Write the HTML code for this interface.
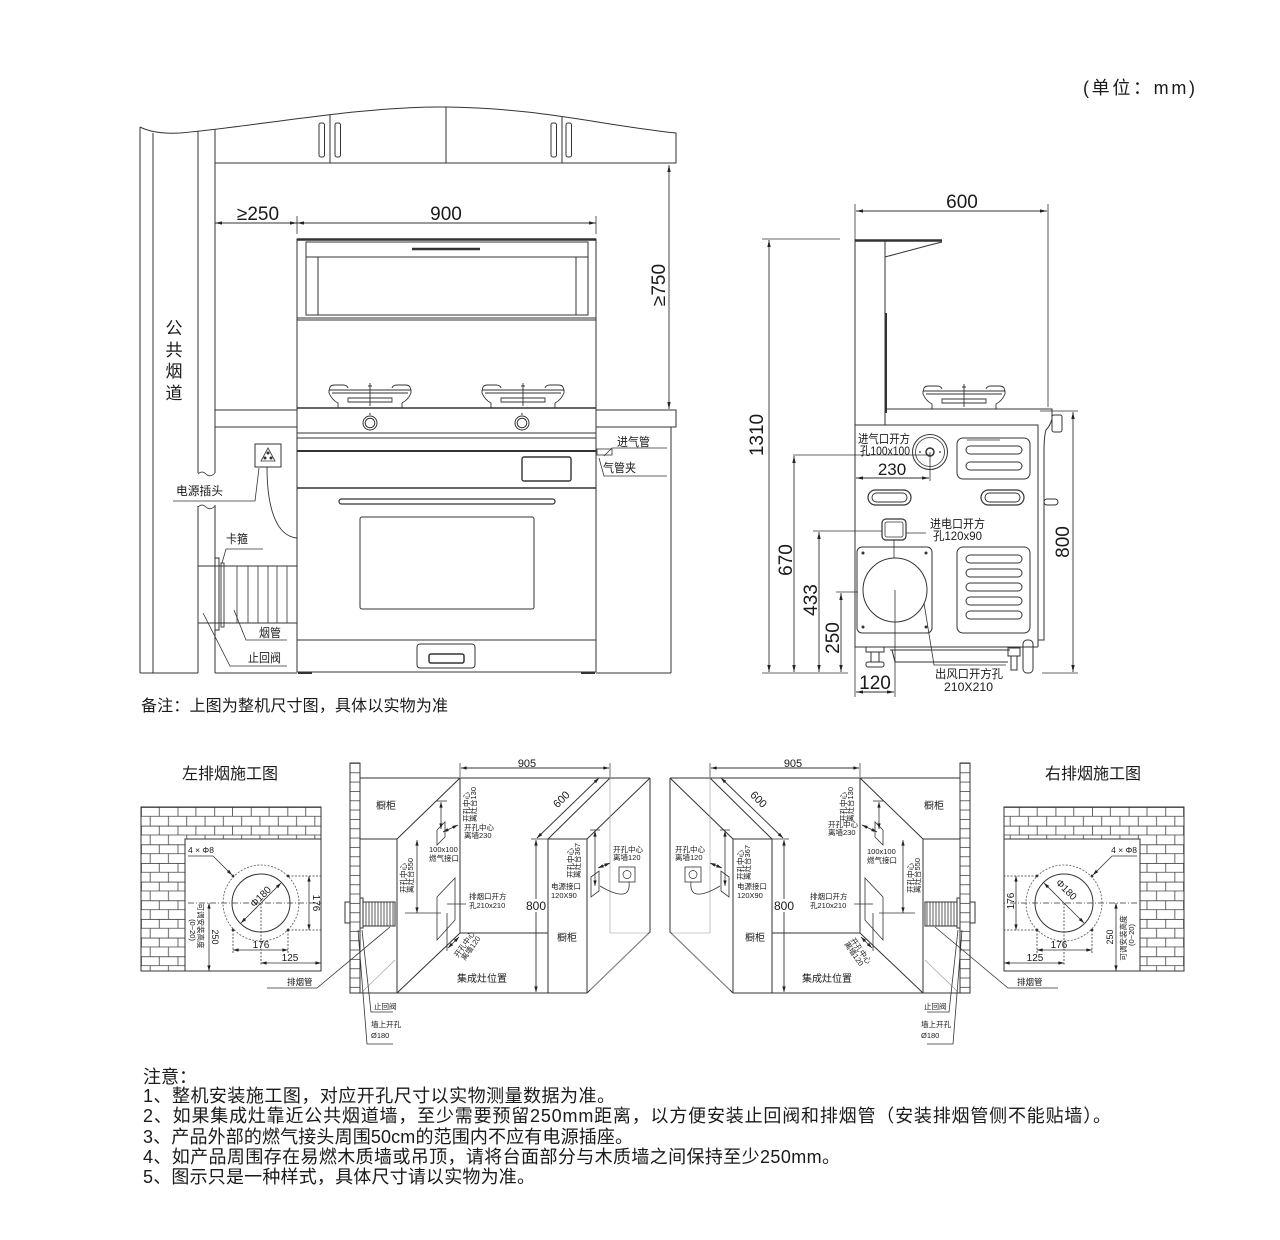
<!DOCTYPE html>
<html><head><meta charset="utf-8"><title>diagram</title>
<style>
html,body{margin:0;padding:0;background:#fff;width:1280px;height:1240px;overflow:hidden}
svg{display:block}
text{font-family:"Liberation Sans","Noto Sans CJK SC",sans-serif;fill:#1a1a1a;stroke:none}
</style></head><body>
<svg width="1280" height="1240" viewBox="0 0 1280 1240" xmlns="http://www.w3.org/2000/svg" xmlns:xlink="http://www.w3.org/1999/xlink">
<defs>
<marker id="a" viewBox="0 0 10 6" refX="10" refY="3" markerWidth="9" markerHeight="4.2" orient="auto-start-reverse" markerUnits="userSpaceOnUse"><path d="M0,0.6L10,3L0,5.4z" fill="#222"/></marker>
<marker id="s" viewBox="0 0 10 6" refX="10" refY="3" markerWidth="6" markerHeight="3.4" orient="auto-start-reverse" markerUnits="userSpaceOnUse"><path d="M0,0L10,3L0,6z" fill="#222"/></marker>
<pattern id="brk" patternUnits="userSpaceOnUse" x="141" y="807" width="36.6" height="18.66"><path d="M0,0.4H36.6M0,9.33H36.6M0.4,0V9.33M18.3,0V9.33M9.15,9.33V18.66M27.45,9.33V18.66" stroke="#444" stroke-width="0.8" fill="none"/></pattern>
<pattern id="col" patternUnits="userSpaceOnUse" x="350" y="763" width="10" height="9.33"><path d="M0,0.4H10" stroke="#444" stroke-width="0.8"/></pattern>
<clipPath id="cab"><path d="M140,127 C148,131 160,134 180,133 C260,126 360,106 446,107 C540,108 600,125 676,133 L676,170 L140,170Z"/></clipPath>
<g id="bn" fill="none" stroke="#333" stroke-width="0.9">
 <path d="M-41,-17 L-40,-21 Q-39,-23 -35,-23 L-27,-23 Q-23,-23 -22,-20"/>
 <path d="M41,-17 L40,-21 Q39,-23 35,-23 L27,-23 Q23,-23 22,-20"/>
 <path d="M-41,-18 L41,-18 L41,-15 Q38,-8 32,-5 L32,0 M-41,-18 L-41,-15 Q-38,-8 -32,-5 L-32,0"/>
 <path d="M-38,-15 L38,-15"/>
 <path d="M-22,-10 L22,-10 L22,-6 L-22,-6 Z"/>
 <path d="M0,-25 L0,-2 M-2,-22 L2,-22"/>
</g>

<g id="brickL">
 <rect x="141" y="807" width="180" height="164" fill="url(#brk)" stroke="none"/>
 <rect x="185" y="839" width="136" height="132" fill="#fff" stroke="none"/>
 <path d="M141,807 H321 V971 H141 Z M185,971 V839 H321" fill="none" stroke="#333" stroke-width="1"/>
 <circle cx="261" cy="903" r="38" fill="none" stroke="#555" stroke-width="0.8" stroke-dasharray="2,1.5"/>
 <circle cx="261" cy="903" r="29" fill="none" stroke="#333" stroke-width="1"/>
 <g fill="#333"><circle cx="233" cy="876" r="1.4"/><circle cx="288" cy="876" r="1.4"/><circle cx="233" cy="930" r="1.4"/><circle cx="288" cy="930" r="1.4"/></g>
 <g fill="none" stroke="#333" stroke-width="0.8">
  <path d="M188,903 H321" stroke-dasharray="6,2,1,2"/>
  <path d="M261,903 V966 M288,876 H321 M288,930 H321 M233,930 V954 M288,930 V954" stroke-dasharray="2,1.5"/>
  <line x1="309" y1="876" x2="309" y2="930" marker-start="url(#s)" marker-end="url(#s)"/>
  <line x1="233" y1="950" x2="288" y2="950" marker-start="url(#s)" marker-end="url(#s)"/>
  <line x1="261" y1="963" x2="321" y2="963" marker-start="url(#s)" marker-end="url(#s)"/>
  <line x1="209" y1="903" x2="209" y2="971" marker-start="url(#s)" marker-end="url(#s)"/>
  <line x1="241" y1="923" x2="281" y2="883" marker-start="url(#s)" marker-end="url(#s)"/>
  <polyline points="188,856 213,856 232,875" marker-end="url(#s)"/>
  <path d="M267,988 H317 L390,927"/>
 </g>
</g>

<g id="boxL" fill="none" stroke="#333" stroke-width="1">
 <rect x="350" y="763" width="10" height="230" fill="url(#col)"/>
 <rect x="345" y="902" width="5" height="21"/>
 <rect x="360" y="898" width="3" height="30"/>
 <rect x="363" y="902" width="32" height="24"/>
 <path d="M366,902V926M369,902V926M372,902V926M375,902V926M378,902V926M381,902V926M384,902V926M387,902V926M390,902V926M393,902V926" stroke-width="0.8"/>
 <path d="M360,778 H650 M360,839 H397 V993 M360,993 H587 M397,839 L460,778 M460,778 V933 L397,993 M460,933 H548 M548,839 H587 M548,839 V993 M587,839 V993 M548,839 L610,778 M587,839 L650,778 M650,778 V932 L587,993"/>
 <path d="M610,778 V933 M610,933 H650 M362,992 L395,960 M590,990 L648,934" stroke="#999" stroke-width="0.6"/>
 <path d="M437,830 L445,822 L445,837 L437,845 Z" stroke-width="0.8"/>
 <path d="M436,801 H447" stroke-width="0.8"/>
 <line x1="441" y1="802" x2="441" y2="829" stroke-width="0.8" marker-start="url(#s)" marker-end="url(#s)"/>
 <line x1="443" y1="832" x2="458" y2="825" stroke-width="0.8" marker-start="url(#s)" marker-end="url(#s)"/>
 <line x1="417" y1="840" x2="417" y2="913" stroke-width="0.8" marker-start="url(#s)" marker-end="url(#s)"/>
 <path d="M405,913 H441" stroke-width="0.8"/>
 <path d="M437,897 L455,878 L455,920 L437,940 Z" stroke-width="0.8"/>
 <path d="M447,904 H466 M447,913 V951" stroke-width="0.8"/>
 <line x1="448" y1="948" x2="459" y2="937" stroke-width="0.8" marker-start="url(#s)" marker-end="url(#s)"/>
 <path d="M591,877 L599,871 L599,891 L591,897 Z" stroke-width="0.8"/>
 <path d="M590,830 H600" stroke-width="0.8"/>
 <line x1="595" y1="831" x2="595" y2="886" stroke-width="0.8" marker-start="url(#s)" marker-end="url(#s)"/>
 <line x1="598" y1="868" x2="610" y2="863" stroke-width="0.8" marker-start="url(#s)" marker-end="url(#s)"/>
 <rect x="619" y="867" width="16" height="15" stroke-width="0.8"/>
 <circle cx="627" cy="874.5" r="4" stroke-width="0.7"/>
 <path d="M629,882 C631,900 615,895 600,886" stroke-width="0.8"/>
 <line x1="461" y1="768" x2="609" y2="768" stroke-width="0.9" marker-start="url(#s)" marker-end="url(#s)"/>
 <path d="M460,763 V777 M610,763 V777" stroke-width="0.7"/>
 <line x1="537" y1="838" x2="599" y2="778" stroke-width="0.9" marker-start="url(#s)" marker-end="url(#s)"/>
 <line x1="536" y1="840" x2="536" y2="992" stroke-width="0.9" marker-start="url(#s)" marker-end="url(#s)"/>
 <path d="M531,839 H548" stroke-width="0.7"/>
 <path d="M362,930 L371,1012 H393 M358,930 L367,1044 H393" stroke-width="0.8"/>
</g>
</defs>

<text x="1083" y="94" font-size="18" textLength="112" lengthAdjust="spacing">(单位：mm)</text>

<g fill="none" stroke="#333" stroke-width="1">
 <path d="M140,127 V673 M153,133 V673 M198,131 V473 M215,129 V473 M198,506 V673 M215,505 V673"/>
 <path d="M198,474 q4,-4 8,0 t9,-1 M198,507 q4,-4 8,0 t9,-1" stroke-width="0.8"/>
 <path d="M140,127 C148,131 160,134 180,133 C260,126 360,106 446,107 C540,108 600,125 676,133 L676,163 L215,163"/>
 <g clip-path="url(#cab)"><path d="M330,100 V163 M446,100 V163 M562,100 V163"/></g>
 <rect x="319" y="123" width="5.5" height="34" rx="2"/>
 <rect x="335" y="123" width="5.5" height="34" rx="2"/>
 <rect x="551" y="123" width="5.5" height="34" rx="2"/>
 <rect x="566" y="123" width="5.5" height="34" rx="2"/>
 <line x1="215" y1="223" x2="297" y2="223" stroke-width="0.9" marker-start="url(#a)" marker-end="url(#a)"/>
 <line x1="297" y1="223" x2="596" y2="223" stroke-width="0.9" marker-start="url(#a)" marker-end="url(#a)"/>
 <path d="M297,216 V234 M596,216 V234" stroke-width="0.8"/>
 <line x1="669" y1="165" x2="669" y2="409" stroke-width="0.9" marker-start="url(#a)" marker-end="url(#a)"/>
 <rect x="297" y="239" width="299" height="79"/>
 <path d="M297,239.5 H596" stroke-width="2.6"/>
 <rect x="306" y="242" width="282" height="73"/>
 <path d="M306,257 H588 M318,257 V315 M576,257 V315 M297,320 H596"/>
 <path d="M412,249 H480" stroke-width="2.6"/>
 <path d="M297,318 V672 M596,318 V672"/>
 <path d="M297,408 H596" stroke-width="1.4"/>
 <path d="M215,410 H297 M215,427 H297 M596,410 H676 V427 H596 M671,427 V673"/>
 <path d="M297,433 H596 M297,438 H596"/>
 <path d="M297,451 H596" stroke-width="2"/>
 <path d="M297,488 H596" stroke-width="1.4"/>
 <rect x="522" y="457" width="49" height="24" rx="2" stroke-width="1.4"/>
 <rect x="339" y="499" width="216" height="5" rx="2.5" stroke-width="1.2"/>
 <rect x="360" y="517" width="174" height="92" rx="2"/>
 <path d="M297,640 H596 M297,672 H596"/>
 <rect x="417" y="644" width="58" height="24" rx="3"/>
 <rect x="429" y="654" width="35" height="9" rx="2" stroke-width="1.5"/>
 <path d="M298,673 H312 M581,673 H595" stroke-width="2"/>
 <path d="M140,673 H198 M215,673 H297 M596,673 H671"/>
 <circle cx="370" cy="423" r="7"/><circle cx="370" cy="423" r="4.8"/>
 <circle cx="522" cy="423" r="7"/><circle cx="522" cy="423" r="4.8"/>
 <path d="M370,413 V415 M522,413 V415"/>
 <rect x="255" y="444" width="26" height="23"/>
 <path d="M268,448 L275,461 L261,461 Z" stroke-width="0.8"/>
 <circle cx="268" cy="453" r="1" fill="#333"/><circle cx="265" cy="458" r="1" fill="#333"/><circle cx="271" cy="458" r="1" fill="#333"/>
 <path d="M173,501 H255 L259,468" stroke-width="0.8"/>
 <path d="M267,467 C267,505 275,536 297,538" stroke-width="0.9"/>
 <path d="M198,566 H297 M198,623 H297"/>
 <rect x="215" y="558" width="4" height="72" stroke-width="1"/>
 <rect x="221" y="563" width="3" height="64" stroke-width="0.9"/>
 <path d="M237,566V623M248,566V623M258,566V623M268,566V623M277,566V623M287,566V623" stroke-width="0.8"/>
 <path d="M226,549 H263 M226,549 L222,563" stroke-width="0.8"/>
 <path d="M234,610 L246,640 H287" stroke-width="0.8"/>
 <path d="M203,613 L230,666 H287" stroke-width="0.8"/>
 <rect x="597" y="449" width="15" height="6" stroke-width="0.8"/>
 <path d="M604,456 L612,448 H667 M599,458 L604,476 H667" stroke-width="0.8"/>
</g>
<use xlink:href="#bn" href="#bn" x="370" y="408"/>
<use xlink:href="#bn" href="#bn" x="523" y="408"/>

<text x="258" y="220" font-size="19" text-anchor="middle">≥250</text>
<text x="446" y="220" font-size="19" text-anchor="middle">900</text>
<text font-size="19" text-anchor="middle" transform="translate(665,285) rotate(-90)">≥750</text>
<g font-size="17" text-anchor="middle">
 <text x="174" y="334">公</text><text x="174" y="356">共</text><text x="174" y="377">烟</text><text x="174" y="399">道</text>
</g>
<g font-size="12">
 <text x="176" y="495" textLength="47" lengthAdjust="spacingAndGlyphs">电源插头</text>
 <text x="226" y="543" textLength="22" lengthAdjust="spacingAndGlyphs">卡箍</text>
 <text x="259" y="637" textLength="22" lengthAdjust="spacingAndGlyphs">烟管</text>
 <text x="248" y="662" textLength="33" lengthAdjust="spacingAndGlyphs">止回阀</text>
 <text x="617" y="446" textLength="33" lengthAdjust="spacingAndGlyphs">进气管</text>
 <text x="603" y="472" textLength="33" lengthAdjust="spacingAndGlyphs">气管夹</text>
</g>
<text x="141" y="711" font-size="16" textLength="307" lengthAdjust="spacing">备注：上图为整机尺寸图，具体以实物为准</text>

<g fill="none" stroke="#333" stroke-width="1">
 <line x1="856" y1="211" x2="1047" y2="211" stroke-width="0.9" marker-start="url(#a)" marker-end="url(#a)"/>
 <path d="M855,204 V239 M1048,204 V407" stroke-width="0.8"/>
 <line x1="769" y1="240" x2="769" y2="672" stroke-width="0.9" marker-start="url(#a)" marker-end="url(#a)"/>
 <path d="M762,239 H840 M762,673 H848 M1042,673 H1078 M1040,411 H1078 M793,455 H930 M813,531 H882 M836,592 H858" stroke-width="0.8"/>
 <line x1="794" y1="456" x2="794" y2="672" stroke-width="0.9" marker-start="url(#a)" marker-end="url(#a)"/>
 <line x1="819" y1="532" x2="819" y2="672" stroke-width="0.9" marker-start="url(#a)" marker-end="url(#a)"/>
 <line x1="841" y1="593" x2="841" y2="672" stroke-width="0.9" marker-start="url(#a)" marker-end="url(#a)"/>
 <line x1="1073" y1="412" x2="1073" y2="672" stroke-width="0.9" marker-start="url(#a)" marker-end="url(#a)"/>
 <line x1="856" y1="692" x2="894" y2="692" stroke-width="0.9" marker-start="url(#a)" marker-end="url(#a)"/>
 <path d="M855,647 V697 M895,590 V697" stroke-width="0.8"/>
 <line x1="856" y1="478" x2="929" y2="478" stroke-width="0.9" marker-start="url(#a)" marker-end="url(#a)"/>
 <path d="M930,452 V481" stroke-width="0.8"/>
 <path d="M855,240.5 H942" stroke-width="2.6"/>
 <path d="M942,242 L930,245 L885,257"/>
 <path d="M855,239 V647 H1038 M885,241 V425"/>
 <path d="M886,313 V413" stroke-width="2"/>
 <path d="M885,409 H1052 V419 Q1050,426 1046,430 Q1044,436 1044,452 V640 H1038 M855,425 H1038 V647"/>
 <rect x="1052" y="415" width="10" height="17" rx="2"/>
 <rect x="1044" y="499" width="14" height="6" rx="3"/>
 <circle cx="930" cy="452" r="17.5"/><circle cx="930" cy="452" r="14.5" stroke-width="0.8"/>
 <circle cx="930" cy="452" r="4" stroke-width="1.5"/>
 <path d="M919,452 H921 M939,452 H941" stroke-width="1.2"/>
 <rect x="957" y="438" width="73" height="41" rx="6"/>
 <rect x="966" y="446" width="56" height="8" rx="4"/>
 <rect x="966" y="462" width="56" height="8" rx="4"/>
 <path d="M967,440 H1000" stroke-width="0.7"/>
 <rect x="868" y="490" width="43" height="15" rx="7.5" stroke-width="1.2"/>
 <rect x="872" y="493" width="35" height="9" rx="4.5"/>
 <rect x="981" y="490" width="43" height="15" rx="7.5" stroke-width="1.2"/>
 <rect x="985" y="493" width="35" height="9" rx="4.5"/>
 <rect x="882" y="519" width="24" height="21" rx="4" stroke-width="1.2"/>
 <rect x="885" y="522" width="18" height="15" rx="2" stroke-width="0.8"/>
 <path d="M906,533 H926 M894,540 V558" stroke-width="0.8"/>
 <rect x="857" y="547" width="75" height="86" rx="5"/>
 <circle cx="895" cy="590" r="32"/>
 <g fill="#333" stroke="none"><circle cx="863" cy="553" r="1.5"/><circle cx="926" cy="553" r="1.5"/><circle cx="863" cy="627" r="1.5"/><circle cx="926" cy="627" r="1.5"/></g>
 <rect x="957" y="547" width="73" height="86" rx="6"/>
 <rect x="966" y="555" width="56" height="8" rx="4"/>
 <rect x="966" y="569" width="56" height="8" rx="4"/>
 <rect x="966" y="583" width="56" height="8" rx="4"/>
 <rect x="966" y="597" width="56" height="8" rx="4"/>
 <rect x="966" y="611" width="56" height="8" rx="4"/>
 <rect x="866" y="647" width="18" height="5"/>
 <rect x="871" y="652" width="8" height="10"/>
 <rect x="866" y="662" width="18" height="5" rx="2"/>
 <path d="M890,650 H1010 M892,650 L895,662 H1008"/>
 <rect x="1008" y="648" width="12" height="8"/>
 <rect x="1011" y="656" width="6" height="14"/>
 <rect x="1023" y="640" width="10" height="33" rx="4"/>
 <path d="M924,603 L934,665 H1006" stroke-width="0.8"/>
</g>
<use xlink:href="#bn" href="#bn" x="964" y="409"/>
<text x="962" y="208" font-size="19" text-anchor="middle">600</text>
<text font-size="19" text-anchor="middle" transform="translate(763,435) rotate(-90)">1310</text>
<text font-size="19" text-anchor="middle" transform="translate(792,560) rotate(-90)">670</text>
<text font-size="19" text-anchor="middle" transform="translate(817,600) rotate(-90)">433</text>
<text font-size="19" text-anchor="middle" transform="translate(839,638) rotate(-90)">250</text>
<text font-size="19" text-anchor="middle" transform="translate(1069,542) rotate(-90)">800</text>
<text x="875" y="689" font-size="19" text-anchor="middle">120</text>
<text x="892" y="475" font-size="17" text-anchor="middle">230</text>
<g font-size="12">
 <text x="858" y="443" textLength="52" lengthAdjust="spacingAndGlyphs">进气口开方</text>
 <text x="860" y="455" textLength="50" lengthAdjust="spacingAndGlyphs">孔100x100</text>
 <text x="930" y="528" textLength="55" lengthAdjust="spacingAndGlyphs">进电口开方</text>
 <text x="933" y="540" textLength="49" lengthAdjust="spacingAndGlyphs">孔120x90</text>
 <text x="935" y="678" textLength="68" lengthAdjust="spacingAndGlyphs">出风口开方孔</text>
 <text x="944" y="691" textLength="49" lengthAdjust="spacingAndGlyphs">210X210</text>
</g>

<use xlink:href="#brickL" href="#brickL"/>
<use xlink:href="#brickL" href="#brickL" transform="translate(1325,0) scale(-1,1)"/>
<use xlink:href="#boxL" href="#boxL"/>
<use xlink:href="#boxL" href="#boxL" transform="translate(1320,0) scale(-1,1)"/>

<rect x="525" y="899" width="22" height="13" fill="#fff"/>
<rect x="773" y="899" width="22" height="13" fill="#fff"/>

<g font-size="16" text-anchor="middle">
 <text x="230" y="779">左排烟施工图</text>
 <text x="1093" y="779">右排烟施工图</text>
</g>

<g font-size="8.5">
 <text x="188" y="853">4 × Φ8</text>
 <text font-size="10" text-anchor="middle" transform="translate(263,899) rotate(-45)">Φ180</text>
 <text font-size="10" text-anchor="middle" transform="translate(313,903) rotate(90)">176</text>
 <text x="261" y="948" font-size="10" text-anchor="middle">176</text>
 <text x="290" y="961" font-size="10" text-anchor="middle">125</text>
 <text font-size="9" text-anchor="middle" transform="translate(212,937) rotate(90)">250</text>
 <text font-size="7.5" text-anchor="middle" transform="translate(198,926) rotate(90)">可调安装高度</text>
 <text font-size="7.5" text-anchor="middle" transform="translate(190,930) rotate(90)">(0~20)</text>
 <text x="287" y="985">排烟管</text>
</g>
<g font-size="8.5">
 <text x="1137" y="853" text-anchor="end">4 × Φ8</text>
 <text font-size="10" text-anchor="middle" transform="translate(1064,892) rotate(45)">Φ180</text>
 <text font-size="10" text-anchor="middle" transform="translate(1014,901) rotate(-90)">176</text>
 <text x="1059" y="948" font-size="10" text-anchor="middle">176</text>
 <text x="1035" y="961" font-size="10" text-anchor="middle">125</text>
 <text font-size="9" text-anchor="middle" transform="translate(1113,937) rotate(-90)">250</text>
 <text font-size="7.5" text-anchor="middle" transform="translate(1126,938) rotate(-90)">可调安装高度</text>
 <text font-size="7.5" text-anchor="middle" transform="translate(1134,935) rotate(-90)">(0~20)</text>
 <text x="1017" y="985">排烟管</text>
</g>

<g font-size="7.5">
 <text x="527" y="767" font-size="11" text-anchor="middle">905</text>
 <text font-size="11" text-anchor="middle" transform="translate(564,802) rotate(-45)">600</text>
 <text x="536" y="910" font-size="12" text-anchor="middle">800</text>
 <text x="386" y="809" font-size="10" text-anchor="middle">橱柜</text>
 <text x="567" y="941" font-size="10" text-anchor="middle">橱柜</text>
 <text x="482" y="982" font-size="10" text-anchor="middle">集成灶位置</text>
 <text transform="translate(469,822) rotate(-90)">开孔中心</text>
 <text transform="translate(476,822) rotate(-90)">离灶台130</text>
 <text x="464" y="830">开孔中心</text>
 <text x="464" y="838">离墙230</text>
 <text x="429" y="852">100x100</text>
 <text x="429" y="861">燃气接口</text>
 <text transform="translate(406,893) rotate(-90)">开孔中心</text>
 <text transform="translate(413,893) rotate(-90)">离灶台550</text>
 <text x="469" y="899">排烟口开方</text>
 <text x="469" y="908">孔210x210</text>
 <text transform="translate(458,958) rotate(-55)">开孔中心</text>
 <text transform="translate(465,961) rotate(-55)">离墙120</text>
 <text transform="translate(573,878) rotate(-90)">开孔中心</text>
 <text transform="translate(580,878) rotate(-90)">离灶台367</text>
 <text x="551" y="889">电源接口</text>
 <text x="551" y="898">120X90</text>
 <text x="613" y="852">开孔中心</text>
 <text x="613" y="860">离墙120</text>
 <text x="374" y="1009">止回阀</text>
 <text x="371" y="1027">墙上开孔</text>
 <text x="371" y="1038">Ø180</text>
</g>
<g font-size="7.5">
 <text x="793" y="767" font-size="11" text-anchor="middle">905</text>
 <text font-size="11" text-anchor="middle" transform="translate(756,802) rotate(45)">600</text>
 <text x="784" y="910" font-size="12" text-anchor="middle">800</text>
 <text x="934" y="809" font-size="10" text-anchor="middle">橱柜</text>
 <text x="755" y="941" font-size="10" text-anchor="middle">橱柜</text>
 <text x="827" y="982" font-size="10" text-anchor="middle">集成灶位置</text>
 <text transform="translate(846,822) rotate(-90)">开孔中心</text>
 <text transform="translate(853,822) rotate(-90)">离灶台130</text>
 <text x="828" y="827">开孔中心</text>
 <text x="828" y="835">离墙230</text>
 <text x="867" y="854">100x100</text>
 <text x="867" y="863">燃气接口</text>
 <text transform="translate(913,893) rotate(-90)">开孔中心</text>
 <text transform="translate(920,893) rotate(-90)">离灶台550</text>
 <text x="810" y="899">排烟口开方</text>
 <text x="810" y="908">孔210x210</text>
 <text transform="translate(850,940) rotate(55)">开孔中心</text>
 <text transform="translate(844,944) rotate(55)">离墙120</text>
 <text transform="translate(743,880) rotate(-90)">开孔中心</text>
 <text transform="translate(750,880) rotate(-90)">离灶台367</text>
 <text x="737" y="889">电源接口</text>
 <text x="737" y="898">120X90</text>
 <text x="675" y="852">开孔中心</text>
 <text x="675" y="860">离墙120</text>
 <text x="924" y="1009">止回阀</text>
 <text x="921" y="1027">墙上开孔</text>
 <text x="921" y="1038">Ø180</text>
</g>

<g font-size="18">
 <text x="143" y="1083">注意：</text>
 <text x="143" y="1102" textLength="472" lengthAdjust="spacing">1、整机安装施工图，对应开孔尺寸以实物测量数据为准。</text>
 <text x="143" y="1122" textLength="968" lengthAdjust="spacing">2、如果集成灶靠近公共烟道墙，至少需要预留250mm距离，以方便安装止回阀和排烟管（安装排烟管侧不能贴墙）。</text>
 <text x="143" y="1143" textLength="490" lengthAdjust="spacing">3、产品外部的燃气接头周围50cm的范围内不应有电源插座。</text>
 <text x="143" y="1163" textLength="697" lengthAdjust="spacing">4、如产品周围存在易燃木质墙或吊顶，请将台面部分与木质墙之间保持至少250mm。</text>
 <text x="143" y="1183" textLength="392" lengthAdjust="spacing">5、图示只是一种样式，具体尺寸请以实物为准。</text>
</g>
</svg>
</body></html>
